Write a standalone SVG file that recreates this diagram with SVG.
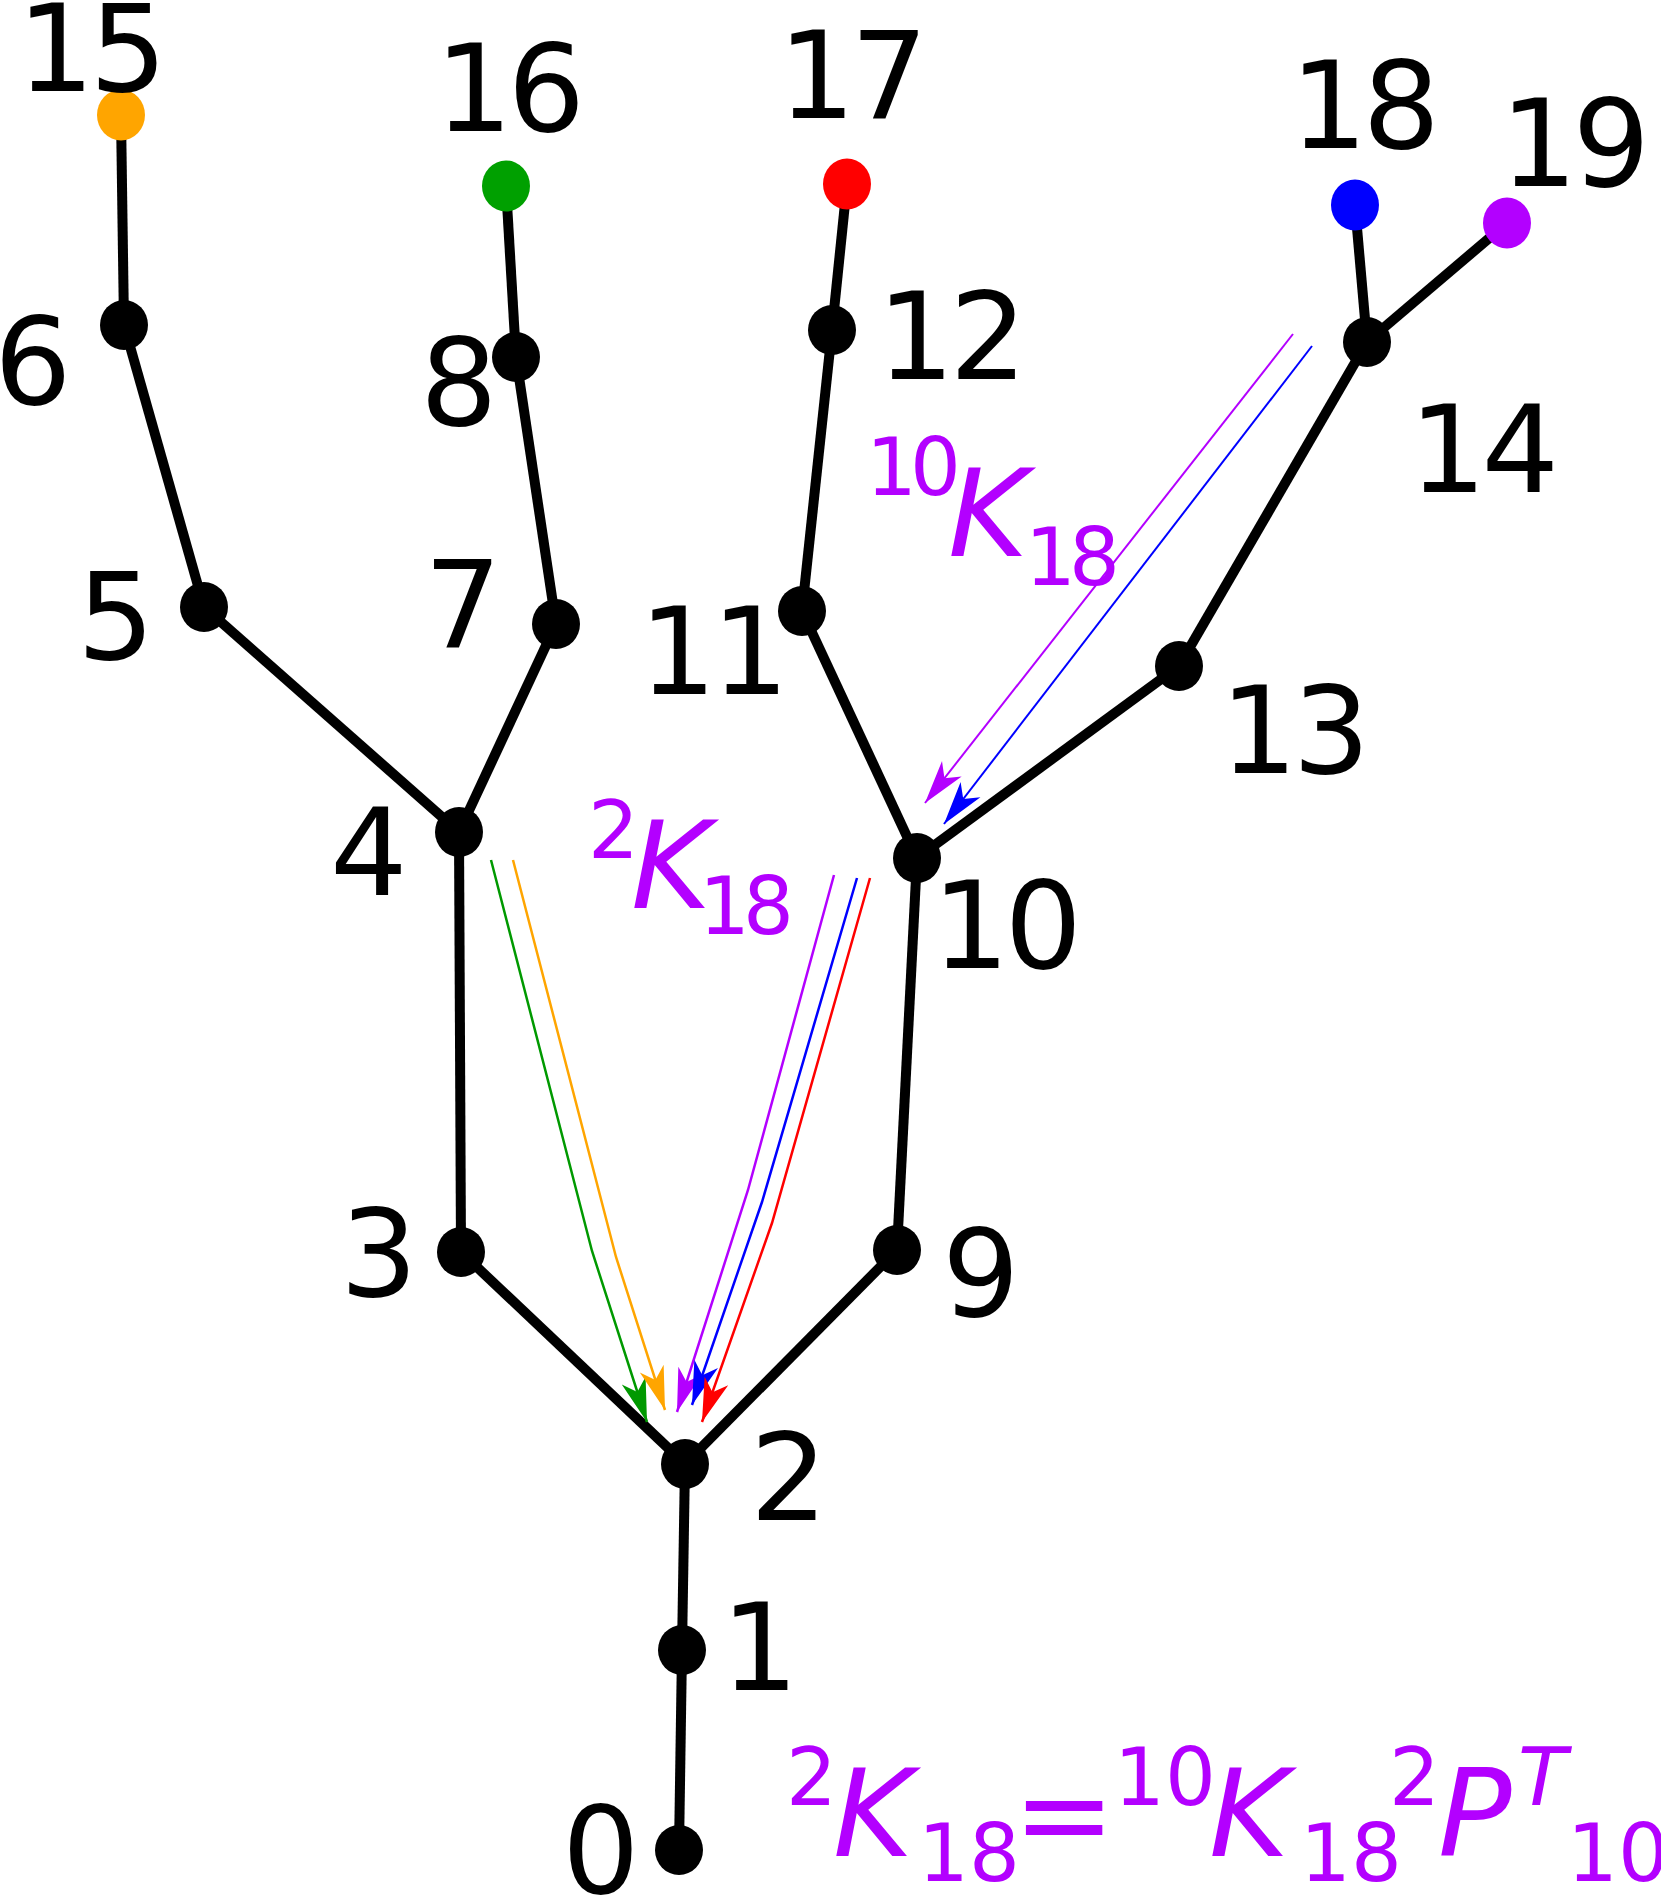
<svg xmlns="http://www.w3.org/2000/svg" width="1661" height="1902" viewBox="0 0 1661 1902">
<style>
.e{stroke:#000;stroke-width:10;fill:none}
.n{fill:#000}
.lbl{font-family:"DejaVu Sans",sans-serif;font-size:122px;letter-spacing:-5px;fill:#000}
.m{font-family:"DejaVu Sans",sans-serif;fill:#b300ff}
.big{font-size:122px;font-style:italic}
.sm{font-size:80px}
.t{letter-spacing:-7px}
.a{fill:none;stroke-width:2.5}
.a2{fill:none;stroke-width:2}
</style>
<defs>
<marker id="mg" markerUnits="userSpaceOnUse" orient="auto" markerWidth="50" markerHeight="50" refX="0" refY="0" viewBox="-42 -14 46 28" overflow="visible"><path d="M0,0 L-40,-11.5 L-29,0 L-40,11.5 Z" fill="#009900"/></marker>
<marker id="mo" markerUnits="userSpaceOnUse" orient="auto" markerWidth="50" markerHeight="50" refX="0" refY="0" viewBox="-42 -14 46 28" overflow="visible"><path d="M0,0 L-40,-11.5 L-29,0 L-40,11.5 Z" fill="#ffa500"/></marker>
<marker id="mp" markerUnits="userSpaceOnUse" orient="auto" markerWidth="50" markerHeight="50" refX="0" refY="0" viewBox="-42 -14 46 28" overflow="visible"><path d="M0,0 L-40,-11.5 L-29,0 L-40,11.5 Z" fill="#b300ff"/></marker>
<marker id="mb" markerUnits="userSpaceOnUse" orient="auto" markerWidth="50" markerHeight="50" refX="0" refY="0" viewBox="-42 -14 46 28" overflow="visible"><path d="M0,0 L-40,-11.5 L-29,0 L-40,11.5 Z" fill="#0000ff"/></marker>
<marker id="mr" markerUnits="userSpaceOnUse" orient="auto" markerWidth="50" markerHeight="50" refX="0" refY="0" viewBox="-42 -14 46 28" overflow="visible"><path d="M0,0 L-40,-11.5 L-29,0 L-40,11.5 Z" fill="#ff0000"/></marker>
</defs>
<rect width="1661" height="1902" fill="#fff"/>
<g id="edges">
<line class="e" x1="679" y1="1850" x2="682" y2="1650"/>
<line class="e" x1="682" y1="1650" x2="685" y2="1464"/>
<line class="e" x1="685" y1="1464" x2="461" y2="1252"/>
<line class="e" x1="685" y1="1464" x2="897" y2="1250"/>
<line class="e" x1="461" y1="1252" x2="459" y2="832"/>
<line class="e" x1="459" y1="832" x2="204" y2="607"/>
<line class="e" x1="459" y1="832" x2="556" y2="624"/>
<line class="e" x1="204" y1="607" x2="124" y2="325"/>
<line class="e" x1="124" y1="325" x2="121" y2="115"/>
<line class="e" x1="556" y1="624" x2="516" y2="357"/>
<line class="e" x1="516" y1="357" x2="506" y2="186"/>
<line class="e" x1="897" y1="1250" x2="917" y2="858"/>
<line class="e" x1="917" y1="858" x2="802" y2="611"/>
<line class="e" x1="917" y1="858" x2="1179" y2="666"/>
<line class="e" x1="802" y1="611" x2="832" y2="330"/>
<line class="e" x1="832" y1="330" x2="847" y2="184"/>
<line class="e" x1="1179" y1="666" x2="1367" y2="342"/>
<line class="e" x1="1367" y1="342" x2="1355" y2="205"/>
<line class="e" x1="1367" y1="342" x2="1507" y2="223"/>
</g>
<g id="arrows">
<polyline class="a" stroke="#009900" points="491,860 592,1251 647,1422" marker-end="url(#mg)"/>
<polyline class="a" stroke="#ffa500" points="513,860 616,1257 665,1410" marker-end="url(#mo)"/>
<polyline class="a" stroke="#b300ff" points="834,875 748,1190 677,1412" marker-end="url(#mp)"/>
<polyline class="a" stroke="#0000ff" points="857,878 762,1202 692,1405" marker-end="url(#mb)"/>
<polyline class="a" stroke="#ff0000" points="870,878 772,1223 702,1422" marker-end="url(#mr)"/>
<line class="a2" stroke="#b300ff" x1="1293" y1="334" x2="925" y2="803" marker-end="url(#mp)"/>
<line class="a2" stroke="#0000ff" x1="1312" y1="346" x2="944" y2="824" marker-end="url(#mb)"/>
</g>
<g id="node0"><ellipse class="n" cx="679" cy="1850" rx="24" ry="25"/><text class="lbl" x="562" y="1893">0</text></g>
<g id="node1"><ellipse class="n" cx="682" cy="1650" rx="24" ry="25"/><text class="lbl" x="721" y="1690">1</text></g>
<g id="node2"><ellipse class="n" cx="685" cy="1464" rx="24" ry="25"/><text class="lbl" x="750" y="1520">2</text></g>
<g id="node3"><ellipse class="n" cx="461" cy="1252" rx="24" ry="25"/><text class="lbl" x="340" y="1296">3</text></g>
<g id="node4"><ellipse class="n" cx="459" cy="832" rx="24" ry="25"/><text class="lbl" x="330" y="895">4</text></g>
<g id="node5"><ellipse class="n" cx="204" cy="607" rx="24" ry="25"/><text class="lbl" x="77" y="659">5</text></g>
<g id="node6"><ellipse class="n" cx="124" cy="325" rx="24" ry="25"/><text class="lbl" x="-6" y="404">6</text></g>
<g id="node7"><ellipse class="n" cx="556" cy="624" rx="24" ry="25"/><text class="lbl" x="424" y="647">7</text></g>
<g id="node8"><ellipse class="n" cx="516" cy="357" rx="24" ry="25"/><text class="lbl" x="420" y="425">8</text></g>
<g id="node9"><ellipse class="n" cx="897" cy="1250" rx="24" ry="25"/><text class="lbl" x="942" y="1316">9</text></g>
<g id="node10"><ellipse class="n" cx="917" cy="858" rx="24" ry="25"/><text class="lbl" x="932" y="968">10</text></g>
<g id="node11"><ellipse class="n" cx="802" cy="611" rx="24" ry="25"/><text class="lbl" x="639" y="694">11</text></g>
<g id="node12"><ellipse class="n" cx="832" cy="330" rx="24" ry="25"/><text class="lbl" x="877" y="379">12</text></g>
<g id="node13"><ellipse class="n" cx="1179" cy="666" rx="24" ry="25"/><text class="lbl" x="1220" y="773">13</text></g>
<g id="node14"><ellipse class="n" cx="1367" cy="342" rx="24" ry="25"/><text class="lbl" x="1409" y="492">14</text></g>
<g id="node15"><ellipse cx="121" cy="115" rx="24" ry="25.5" fill="#ffa500"/><text class="lbl" x="17" y="91">15</text></g>
<g id="node16"><ellipse cx="506" cy="186" rx="24" ry="25.5" fill="#00a000"/><text class="lbl" x="435" y="131">16</text></g>
<g id="node17"><ellipse cx="847" cy="184" rx="24" ry="25.5" fill="#ff0000"/><text class="lbl" x="778" y="118">17</text></g>
<g id="node18"><ellipse cx="1355" cy="205" rx="24" ry="25.5" fill="#0000ff"/><text class="lbl" x="1290" y="148">18</text></g>
<g id="node19"><ellipse cx="1507" cy="223" rx="24" ry="25.5" fill="#b300ff"/><text class="lbl" x="1500" y="186">19</text></g>
<g id="labels">
<text class="m"><tspan class="sm" x="588" y="858">2</tspan><tspan class="big" x="631" y="908">K</tspan><tspan class="sm t" x="699" y="934">18</tspan></text>
<text class="m"><tspan class="sm t" x="866" y="495">10</tspan><tspan class="big" x="948" y="556">K</tspan><tspan class="sm t" x="1025" y="585">18</tspan></text>
<text class="m"><tspan class="sm" x="786" y="1805">2</tspan><tspan class="big" x="833" y="1856">K</tspan><tspan class="sm" x="918" y="1881">18</tspan><tspan style="font-size:122px" x="1013" y="1856">=</tspan><tspan class="sm" x="1114" y="1805">10</tspan><tspan class="big" x="1209" y="1856">K</tspan><tspan class="sm" x="1300" y="1881">18</tspan><tspan class="sm" x="1389" y="1805">2</tspan><tspan class="big" x="1438" y="1856">P</tspan><tspan class="sm" style="font-style:italic" x="1518" y="1805">T</tspan><tspan class="sm" x="1567" y="1881">10</tspan></text>
</g>
</svg>
